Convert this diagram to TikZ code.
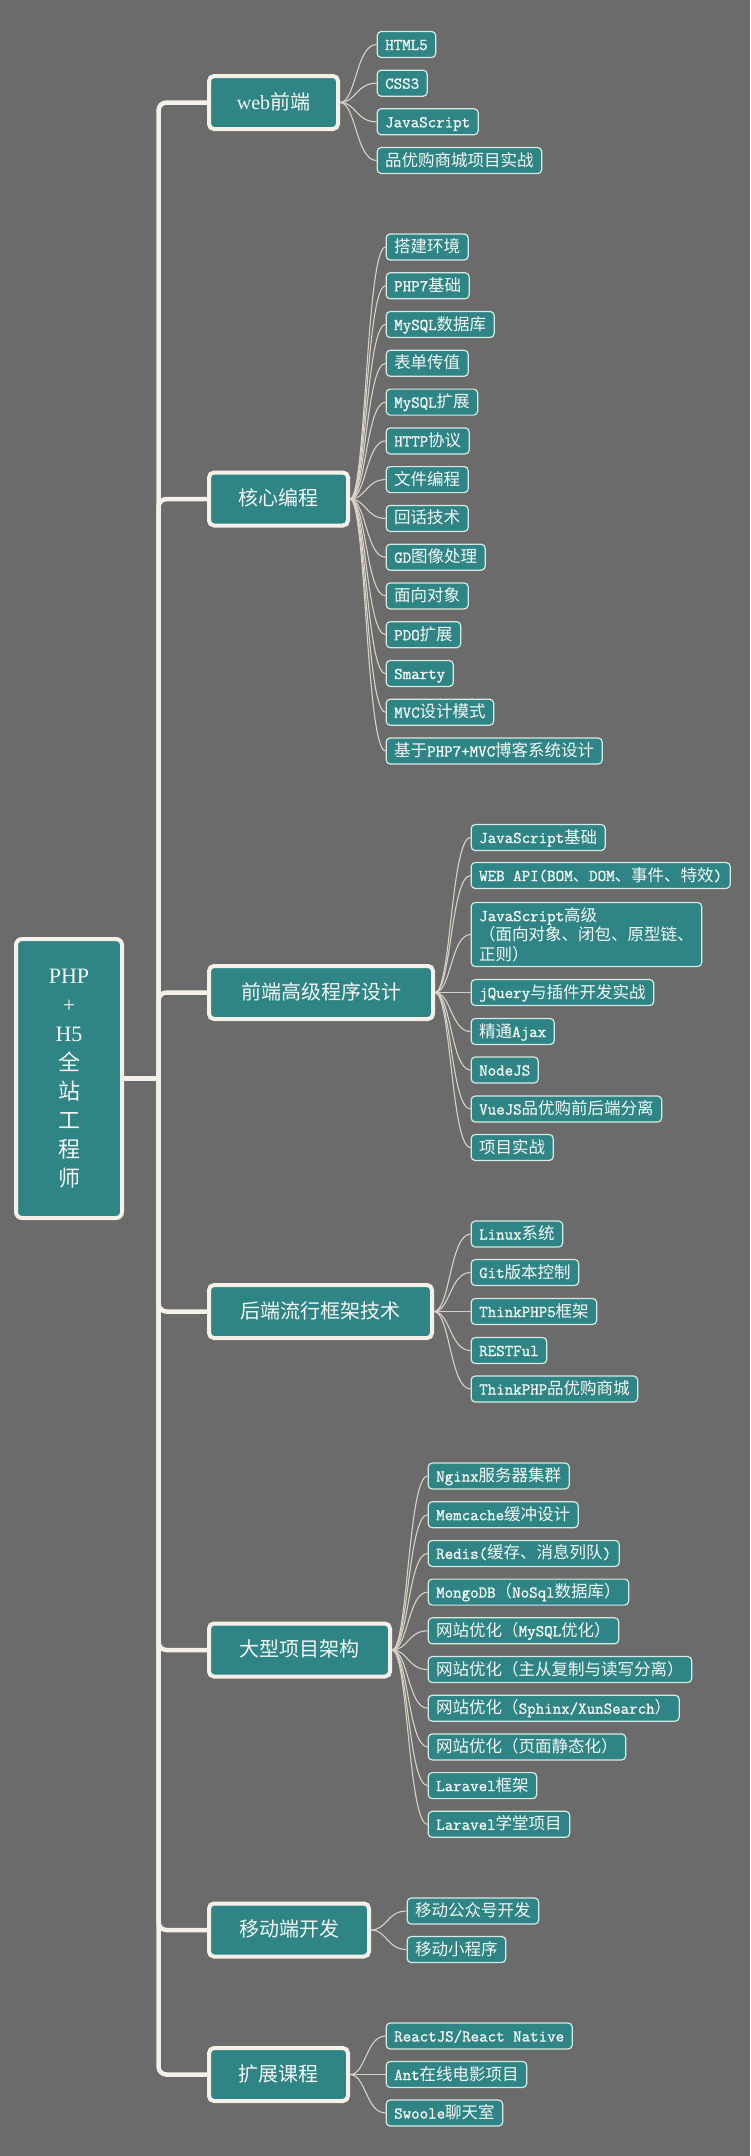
\documentclass[tikz,border=0pt]{standalone}
\usepackage{fontspec}
\setmainfont{Liberation Serif}
\newfontfamily\cjk{Noto Sans CJK SC}
\newfontfamily\monob{Latin Modern Mono}[FakeBold=1.2]
\usetikzlibrary{calc,backgrounds}
\definecolor{bgc}{HTML}{6B6B6B}
\definecolor{mteal}{HTML}{2F8585}
\definecolor{cream}{HTML}{F5F1E8}
\definecolor{leafedge}{HTML}{D6EAE4}
\definecolor{thinline}{HTML}{D8D1C5}
\definecolor{txt}{HTML}{F4F7F4}
\newcommand\mtt[1]{{\monob #1}}
\newcommand\twig[2]{\draw[twig] (#1.east) .. controls ($(#1.east)+(16,0)$) and ($(#1.east |- #2.west)+(16,0)$) .. (#2.west);}
\tikzset{
  lvl/.style={draw=cream, line width=4pt, fill=mteal, rounded corners=5pt, minimum height=53pt,
    inner sep=0pt, anchor=west, text=txt, font=\cjk\fontsize{20}{24}\selectfont,
    text height=16pt, text depth=3pt},
  leafbase/.style={draw=leafedge, line width=1.2pt, fill=mteal, rounded corners=4pt, minimum height=26pt,
    inner xsep=8pt, inner ysep=0pt, anchor=west, text=txt, font=\cjk\fontsize{16.5}{19.5}\selectfont},
  leaf/.style={leafbase, text height=13pt, text depth=2pt},
  trunk/.style={draw=cream, line width=4.5pt},
  twig/.style={draw=thinline, line width=1.1pt},
}
\begin{document}
\begin{tikzpicture}[x=1pt,y=-1pt]
\useasboundingbox (0,0) rectangle (750,2156);
% root
\node[draw=cream, line width=4pt, fill=mteal, rounded corners=6pt, minimum width=106pt, minimum height=279pt,
  inner sep=0pt, text=txt, align=center, font=\cjk\fontsize{22}{29}\selectfont] (root) at (69,1078.5)
  {{\rmfamily PHP}\\{\rmfamily +}\\{\rmfamily H5}\\全\\站\\工\\程\\师};
% level 1
\node[lvl, minimum width=129pt] (web)  at (207,102.5)  {{\rmfamily web}前端};
\node[lvl, minimum width=139pt] (core) at (207,499)    {核心编程};
\node[lvl, minimum width=224pt] (fe)   at (207,992.5)  {前端高级程序设计};
\node[lvl, minimum width=223pt] (be)   at (207,1311.5) {后端流行框架技术};
\node[lvl, minimum width=181pt] (arch) at (207,1650)   {大型项目架构};
\node[lvl, minimum width=160pt] (mob)  at (207,1930)   {移动端开发};
\node[lvl, minimum width=139pt] (ext)  at (207,2074.5) {扩展课程};
% web leaves
\node[leaf] (w1) at (376.6,44.5)  {\mtt{HTML5}};
\node[leaf] (w2) at (376.6,83.2)  {\mtt{CSS3}};
\node[leaf] (w3) at (376.6,121.8) {\mtt{JavaScript}};
\node[leaf] (w4) at (376.6,160.5) {品优购商城项目实战};
% core leaves
\node[leaf] (c1)  at (385.6,247)   {搭建环境};
\node[leaf] (c2)  at (385.6,285.8) {\mtt{PHP7}基础};
\node[leaf] (c3)  at (385.6,324.5) {\mtt{MySQL}数据库};
\node[leaf] (c4)  at (385.6,363.3) {表单传值};
\node[leaf] (c5)  at (385.6,402.1) {\mtt{MySQL}扩展};
\node[leaf] (c6)  at (385.6,440.9) {\mtt{HTTP}协议};
\node[leaf] (c7)  at (385.6,479.6) {文件编程};
\node[leaf] (c8)  at (385.6,518.4) {回话技术};
\node[leaf] (c9)  at (385.6,557.2) {\mtt{GD}图像处理};
\node[leaf] (c10) at (385.6,595.9) {面向对象};
\node[leaf] (c11) at (385.6,634.7) {\mtt{PDO}扩展};
\node[leaf] (c12) at (385.6,673.5) {\mtt{Smarty}};
\node[leaf] (c13) at (385.6,712.2) {\mtt{MVC}设计模式};
\node[leaf] (c14) at (385.6,751)   {基于\mtt{PHP7+MVC}博客系统设计};
% fe leaves
\node[leaf] (f1) at (470.6,837.5)  {\mtt{JavaScript}基础};
\node[leaf] (f2) at (470.6,875.5)  {\mtt{WEB API(BOM}、\mtt{DOM}、事件、特效\mtt{)}};
\node[leafbase, minimum height=64pt, align=left] (f3) at (470.6,934.5)
  {\mtt{JavaScript}高级\\（面向对象、闭包、原型链、\\正则）};
\node[leaf] (f4) at (470.6,992.5)  {\mtt{jQuery}与插件开发实战};
\node[leaf] (f5) at (470.6,1031.5) {精通\mtt{Ajax}};
\node[leaf] (f6) at (470.6,1070)   {\mtt{NodeJS}};
\node[leaf] (f7) at (470.6,1109)   {\mtt{VueJS}品优购前后端分离};
\node[leaf] (f8) at (470.6,1147.5) {项目实战};
% be leaves
\node[leaf] (b1) at (470.6,1234)   {\mtt{Linux}系统};
\node[leaf] (b2) at (470.6,1272.5) {\mtt{Git}版本控制};
\node[leaf] (b3) at (470.6,1311.5) {\mtt{ThinkPHP5}框架};
\node[leaf] (b4) at (470.6,1350.5) {\mtt{RESTFul}};
\node[leaf] (b5) at (470.6,1389)   {\mtt{ThinkPHP}品优购商城};
% arch leaves
\node[leaf] (a1)  at (427.6,1476)   {\mtt{Nginx}服务器集群};
\node[leaf] (a2)  at (427.6,1514.7) {\mtt{Memcache}缓冲设计};
\node[leaf] (a3)  at (427.6,1553.4) {\mtt{Redis(}缓存、消息列队\mtt{)}};
\node[leaf] (a4)  at (427.6,1592.1) {\mtt{MongoDB}（\mtt{NoSql}数据库）};
\node[leaf] (a5)  at (427.6,1630.8) {网站优化（\mtt{MySQL}优化）};
\node[leaf] (a6)  at (427.6,1669.5) {网站优化（主从复制与读写分离）};
\node[leaf] (a7)  at (427.6,1708.2) {网站优化（\mtt{Sphinx/XunSearch}）};
\node[leaf] (a8)  at (427.6,1746.9) {网站优化（页面静态化）};
\node[leaf] (a9)  at (427.6,1785.6) {\mtt{Laravel}框架};
\node[leaf] (a10) at (427.6,1824.3) {\mtt{Laravel}学堂项目};
% mob leaves
\node[leaf] (m1) at (406.6,1911)   {移动公众号开发};
\node[leaf] (m2) at (406.6,1949.5) {移动小程序};
% ext leaves
\node[leaf] (e1) at (385.6,2036)   {\mtt{ReactJS/React Native}};
\node[leaf] (e2) at (385.6,2074.5) {\mtt{Ant}在线电影项目};
\node[leaf] (e3) at (385.6,2113)   {\mtt{Swoole}聊天室};
% connectors
\begin{scope}[on background layer]
  \fill[bgc] (0,0) rectangle (750,2156);
  \coordinate (tj) at (158.5,1078.5);
  \draw[trunk] (root.east) -- (tj);
  \foreach \n in {web,core,fe,be,arch,mob,ext}
    {\draw[trunk, rounded corners=8pt] (tj) |- (\n.west);}
  \foreach \c in {w1,w2,w3,w4} {\twig{web}{\c}}
  \foreach \c in {c1,c2,c3,c4,c5,c6,c7,c8,c9,c10,c11,c12,c13,c14} {\twig{core}{\c}}
  \foreach \c in {f1,f2,f3,f4,f5,f6,f7,f8} {\twig{fe}{\c}}
  \foreach \c in {b1,b2,b3,b4,b5} {\twig{be}{\c}}
  \foreach \c in {a1,a2,a3,a4,a5,a6,a7,a8,a9,a10} {\twig{arch}{\c}}
  \foreach \c in {m1,m2} {\twig{mob}{\c}}
  \foreach \c in {e1,e2,e3} {\twig{ext}{\c}}
\end{scope}
\end{tikzpicture}
\end{document}
